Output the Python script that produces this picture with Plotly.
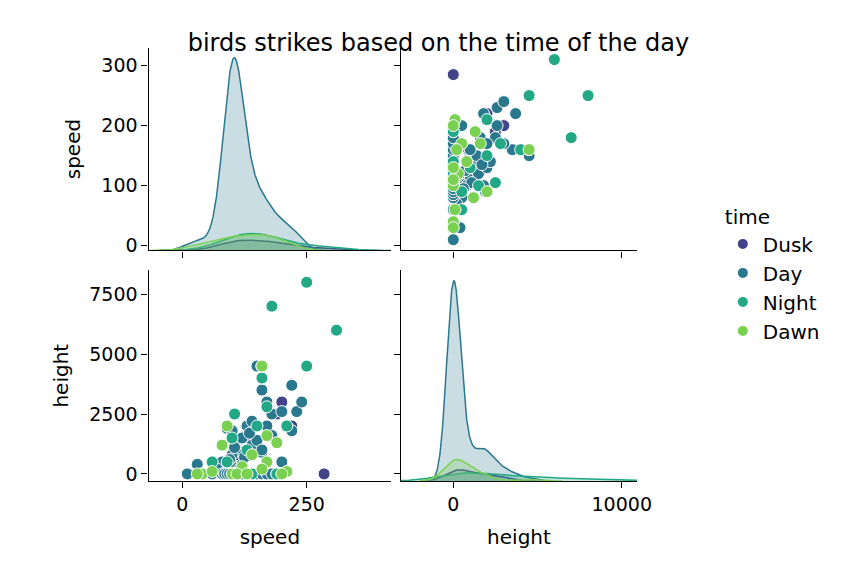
import numpy as np
import plotly.graph_objects as go

times = ["Dusk", "Day", "Night", "Dawn"]
colors = {"Dusk": "#414487", "Day": "#2a788e", "Night": "#22a884", "Dawn": "#7ad151"}

speed = {
 "Dusk": [285,200,190,220,150,120,100,90,130,170,110],
 "Night": [250,180,310,250,160,160,105,210,130,90,140,60,100,190,150,170,120,110],
 "Dawn": [210,160,170,190,90,100,140,120,170,40,60,200,30,80,160,110,130],
 "Day": [10,30,40,60,80,90,100,110,120,130,140,150,160,170,180,200,210,220,230,240,220,160,150,120,100,90,80,70,110,120,130,140,150,100,90,100,180,200,140,160,170,105,95,115,125,135,100,110,120,90,80,130,140,150,160,170,180,190,200,100,110,95,85,105,115,125,
         90,95,100,100,105,110,110,115,120,100,105,95,90,110,100,120,105,115,100,110,85,95,100,105,110,90,100,95,105,115],
}
height = {
 "Dusk": [0,3000,2500,2000,1000,500,0,200,1500,0,800],
 "Night": [8000,7000,6000,4500,4500,4000,2500,2000,1000,500,0,500,1500,0,2000,2800,0,0],
 "Dawn": [100,4500,500,1300,2000,0,800,300,1600,0,100,0,0,1200,200,0,0],
 "Day": [0,400,0,0,0,1900,1800,1000,1500,2000,1200,4500,3500,3000,2500,2600,2000,3700,2600,3000,1800,900,1400,400,300,100,500,200,0,0,0,0,0,0,0,800,1600,500,2200,1000,2000,1100,600,200,700,1700,0,0,0,0,0,0,0,0,0,0,0,0,0,0,0,0,0,0,0,0,
         0,0,0,0,0,0,0,0,0,0,0,0,0,0,0,0,0,0,0,0,0,0,0,0,0,0,0,0,0,0],
}

def kde(vals, grid, ntot):
    v = np.asarray(vals, float)
    n = len(v)
    bw = v.std(ddof=1) * n ** (-0.2)
    d = np.exp(-0.5 * ((grid[:, None] - v[None, :]) / bw) ** 2).sum(1) / (n * bw * np.sqrt(2 * np.pi))
    return d * n / ntot

def rgba(h, a):
    h = h.lstrip("#")
    return "rgba(%d,%d,%d,%s)" % (int(h[0:2], 16), int(h[2:4], 16), int(h[4:6], 16), a)

fig = go.Figure()
ns = sum(len(speed[t]) for t in times)
nh = sum(len(height[t]) for t in times)

for t in times:
    c = colors[t]
    for var, xa, ya, ntot in [(speed, "x", "y5", ns), (height, "x4", "y6", nh)]:
        v = np.asarray(var[t], float)
        bw = v.std(ddof=1) * len(v) ** (-0.2)
        g = np.linspace(v.min() - 3 * bw, v.max() + 3 * bw, 500)
        d = kde(v, g, ntot)
        fig.add_trace(go.Scatter(x=g, y=d, xaxis=xa, yaxis=ya, mode="lines", fill="tozeroy",
                                 line=dict(color=c, width=1.5), fillcolor=rgba(c, 0.25),
                                 showlegend=False, hoverinfo="skip"))

for t in times:
    c = colors[t]
    m = dict(color=c, size=12, line=dict(color="white", width=1))
    fig.add_trace(go.Scatter(x=height[t], y=speed[t], xaxis="x2", yaxis="y2", mode="markers",
                             marker=m, name=t, showlegend=True))
    fig.add_trace(go.Scatter(x=speed[t], y=height[t], xaxis="x3", yaxis="y3", mode="markers",
                             marker=m, name=t, showlegend=False))

fig.add_trace(go.Scatter(x=[None], y=[None], xaxis="x", yaxis="y", showlegend=False))
fig.add_trace(go.Scatter(x=[None], y=[None], xaxis="x4", yaxis="y4", showlegend=False))

ax = dict(showline=True, linecolor="black", linewidth=1.3, ticks="outside", ticklen=6,
          tickwidth=1.3, tickcolor="black", showgrid=False, zeroline=False,
          tickfont=dict(size=19, color="black"), tickformat="d")
tf = dict(size=20)
xd1 = [143/866, 390/866]; xd2 = [400/866, 640/866]
yd1 = [1-245/583, 1-40/583]; yd2 = [1-478/583, 1-265/583]
sr = [-8, 330]; hr = [-3100, 10900]; spr = [-68, 420]; hyr = [-300, 8500]

fig.update_layout(
    width=866, height=583, margin=dict(l=0, r=0, t=0, b=0),
    plot_bgcolor="white", paper_bgcolor="white",
    font=dict(family="DejaVu Sans", color="black"),
    title=dict(text="birds strikes based on the time of the day", x=0.497, xanchor="center",
               y=0.94, yanchor="middle", font=dict(size=24)),
    xaxis=dict(ax, domain=xd1, range=spr, anchor="y", tickvals=[0, 250], showticklabels=False),
    yaxis=dict(ax, domain=yd1, range=sr, anchor="x", tickvals=[0, 100, 200, 300], title=dict(text="speed", font=tf)),
    yaxis5=dict(domain=yd1, overlaying="y", anchor="x", visible=False, rangemode="tozero"),
    xaxis2=dict(ax, domain=xd2, range=hr, anchor="y2", tickvals=[0, 10000], showticklabels=False),
    yaxis2=dict(ax, domain=yd1, range=sr, anchor="x2", tickvals=[0, 100, 200, 300], showticklabels=False),
    xaxis3=dict(ax, domain=xd1, range=spr, anchor="y3", tickvals=[0, 250], title=dict(text="speed", font=tf)),
    yaxis3=dict(ax, domain=yd2, range=hyr, anchor="x3", tickvals=[0, 2500, 5000, 7500], title=dict(text="height", font=tf)),
    xaxis4=dict(ax, domain=xd2, range=hr, anchor="y4", tickvals=[0, 10000], title=dict(text="height", font=tf)),
    yaxis4=dict(ax, domain=yd2, range=hyr, anchor="x4", tickvals=[0, 2500, 5000, 7500], showticklabels=False),
    yaxis6=dict(domain=yd2, overlaying="y4", anchor="x4", visible=False, rangemode="tozero"),
    legend=dict(x=0.84, y=0.67, xanchor="left", yanchor="top", title=dict(text="time", font=dict(size=20)),
                font=dict(size=20), borderwidth=0, itemsizing="constant", tracegroupgap=14),
)
fig.write_html("out.html")
